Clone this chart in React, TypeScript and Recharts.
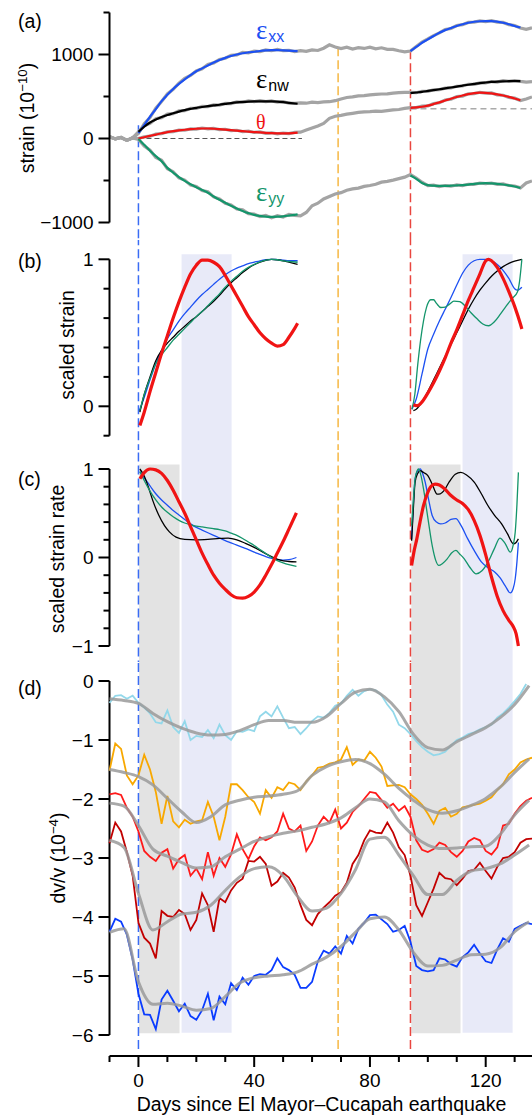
import React from 'react';
import { LineChart, Line, XAxis, YAxis, ReferenceLine, ReferenceArea } from 'recharts';

const SANS = '"Liberation Sans", Arial, Helvetica, sans-serif';
const SERIF = '"Liberation Serif", "Times New Roman", serif';

const W = 532;
const AXIS_W = 109.5;

// x: days since the El Mayor–Cucapah earthquake
const X_DOMAIN: [number, number] = [-10, 136];
const X_TICKS = [-10, 0, 10, 20, 30, 40, 50, 60, 70, 80, 90, 100, 110, 120, 130];
const X_LABELLED = [0, 40, 80, 120];

// event markers (top = strain value where the marker starts in panel a)
const EVENTS = [
  { day: 0, color: '#3a6cf4', top: 158 },
  { day: 69, color: '#f6b844', top: 1085 },
  { day: 94, color: '#e9463f', top: 1050 },
];
const GRAY_WINDOWS: [number, number][] = [[0.2, 14.2], [94.3, 111.3]];
const BLUE_WINDOWS: [number, number][] = [[14.9, 32.2], [112, 129.3]];

const DAYS_2 = Array.from({ length: 74 }, (_, i) => -10 + 2 * i);
const DAYS_5 = Array.from({ length: 30 }, (_, i) => -10 + 5 * i);

// ---- (a) raw strain (gray), every 2 days ----
const RAW_XX = [20, -5, 12, -22, 8, 60, 175, 250, 360, 440, 530, 585, 660, 715, 750, 805, 830, 880, 900, 940, 955, 990, 995, 1025, 1020,
  1040, 1035, 1055, 1045, 1060, 1045, 1050, 1035, 1045, 1038, 1055, 1048, 1075, 1115, 1090, 1070, 1088, 1065, 1082, 1072,
  1088, 1068, 1080, 1062, 1060, 1045, 1032, 1042, 1095, 1148, 1185, 1225, 1258, 1298, 1310, 1345, 1355, 1382, 1385, 1400,
  1392, 1402, 1385, 1382, 1355, 1345, 1315, 1300, 1318];
const RAW_NW = [20, -5, 12, -22, 8, 80, 150, 180, 235, 248, 290, 295, 330, 332, 360, 358, 382, 380, 400, 398, 418, 415, 435, 430, 448,
  438, 450, 440, 447, 432, 438, 420, 418, 425, 420, 432, 428, 435, 438, 450, 470, 488, 495, 508, 510,
  520, 525, 530, 532, 540, 545, 548, 550, 545, 560, 562, 580, 582, 600, 602, 622, 625, 645, 645, 662,
  662, 678, 672, 688, 680, 690, 680, 672, 678];
const RAW_TH = [20, -5, 12, -22, 8, 0, 20, 28, 52, 58, 80, 82, 100, 98, 115, 112, 125, 115, 120, 105, 110, 95, 98, 82, 88,
  72, 78, 62, 68, 55, 65, 58, 72, 75, 100, 125, 150, 180, 240, 265, 275, 290, 300, 310, 318,
  320, 325, 322, 332, 340, 345, 358, 368, 368, 385, 388, 415, 425, 458, 468, 498, 505, 532, 535, 550,
  540, 542, 520, 515, 490, 480, 452, 470, 495];
const RAW_YY = [20, -5, 12, -22, 8, -10, -90, -140, -225, -260, -360, -395, -470, -495, -555, -570, -620, -635, -695, -720, -770, -790, -840, -850, -895,
  -900, -930, -915, -945, -920, -935, -905, -915, -920, -880, -800, -770, -720, -690, -660, -645, -615, -600, -590, -570,
  -560, -545, -520, -510, -495, -478, -460, -430, -470, -520, -560, -555, -572, -560, -568, -552, -560, -545, -545, -530,
  -538, -530, -545, -540, -560, -565, -588, -530, -505];

// ---- (a) fitted strain [day, value] ----
const FIT_XX_1: [number, number][] = [[0, 64], [2, 160], [4, 260], [6, 350], [8, 445], [10, 520], [12, 590], [14, 650], [16, 705], [18, 755], [20, 800], [22, 835], [24, 870], [26, 905], [28, 935], [30, 960], [32, 982], [34, 1000], [36, 1015], [38, 1025], [40, 1033], [42, 1042], [44, 1048], [46, 1052], [48, 1052], [50, 1050], [52, 1047], [55, 1040]];
const FIT_XX_2: [number, number][] = [[94, 1040], [96, 1090], [98, 1140], [100, 1180], [102, 1220], [104, 1260], [106, 1290], [108, 1315], [110, 1340], [112, 1360], [114, 1378], [116, 1390], [118, 1396], [120, 1398], [122, 1398], [124, 1392], [126, 1378], [128, 1360], [130, 1340], [132, 1322]];
const FIT_NW_1: [number, number][] = [[0, 80], [2, 140], [4, 190], [6, 225], [8, 255], [10, 280], [12, 300], [14, 320], [16, 338], [18, 352], [20, 365], [22, 375], [24, 385], [26, 394], [28, 402], [30, 412], [32, 422], [34, 430], [36, 436], [38, 440], [40, 442], [42, 443], [44, 443], [46, 442], [48, 438], [50, 432], [52, 425], [55, 414]];
const FIT_NW_2: [number, number][] = [[94, 540], [96, 548], [98, 556], [100, 566], [102, 576], [104, 586], [106, 597], [108, 607], [110, 618], [112, 630], [114, 640], [116, 650], [118, 660], [120, 667], [122, 673], [124, 678], [126, 681], [128, 682], [130, 683], [132, 683]];
const FIT_TH_1: [number, number][] = [[0, 0], [2, 15], [4, 32], [6, 47], [8, 62], [10, 76], [12, 87], [14, 96], [16, 104], [18, 111], [20, 116], [22, 119], [24, 119], [26, 116], [28, 112], [30, 106], [32, 99], [34, 93], [36, 87], [38, 82], [40, 77], [42, 72], [44, 67], [46, 63], [48, 61], [50, 60], [52, 62], [55, 70]];
const FIT_TH_2: [number, number][] = [[94, 365], [96, 370], [98, 378], [100, 392], [102, 410], [104, 430], [106, 452], [108, 474], [110, 494], [112, 512], [114, 528], [116, 540], [118, 545], [120, 544], [122, 537], [124, 526], [126, 512], [128, 496], [130, 476], [132, 455]];
const FIT_YY_1: [number, number][] = [[0, -5], [2, -75], [4, -145], [6, -210], [8, -270], [10, -350], [12, -405], [14, -460], [16, -505], [18, -545], [20, -580], [22, -612], [24, -645], [26, -690], [28, -730], [30, -765], [32, -800], [34, -832], [36, -862], [38, -888], [40, -910], [42, -922], [44, -930], [46, -932], [48, -930], [50, -926], [52, -918], [55, -904]];
const FIT_YY_2: [number, number][] = [[94, -440], [96, -480], [98, -530], [100, -555], [102, -562], [104, -565], [106, -565], [108, -562], [110, -558], [112, -554], [114, -548], [116, -540], [118, -535], [120, -532], [122, -535], [124, -540], [126, -548], [128, -558], [130, -572], [132, -590]];

// ---- (b) scaled strain ----
const B_RED_1: [number, number][] = [[0.5, -0.13], [2, -0.04], [4, 0.1], [6, 0.23], [8, 0.36], [10, 0.48], [12, 0.6], [14, 0.71], [16, 0.81], [18, 0.9], [20, 0.96], [22, 0.995], [24, 0.995], [26, 0.98], [28, 0.95], [30, 0.89], [32, 0.82], [34, 0.75], [36, 0.68], [38, 0.61], [40, 0.555], [42, 0.5], [44, 0.46], [46, 0.43], [48, 0.41], [50, 0.42], [52, 0.47], [54, 0.53], [55, 0.565]];
const B_BLUE_1: [number, number][] = [[0.3, -0.03], [2, 0.06], [4, 0.18], [6, 0.29], [8, 0.38], [10, 0.46], [12, 0.52], [14, 0.58], [16, 0.63], [18, 0.675], [20, 0.72], [22, 0.76], [24, 0.795], [26, 0.83], [28, 0.865], [30, 0.895], [32, 0.92], [34, 0.94], [36, 0.955], [38, 0.97], [40, 0.98], [42, 0.99], [44, 0.997], [46, 1.0], [48, 0.998], [50, 0.995], [52, 0.99], [55, 0.99]];
const B_BLACK_1: [number, number][] = [[0.5, -0.04], [2, 0.08], [4, 0.2], [6, 0.31], [8, 0.38], [10, 0.43], [12, 0.47], [14, 0.51], [16, 0.545], [18, 0.58], [20, 0.61], [22, 0.645], [24, 0.68], [26, 0.715], [28, 0.755], [30, 0.8], [32, 0.84], [34, 0.875], [36, 0.91], [38, 0.94], [40, 0.963], [42, 0.98], [44, 0.993], [46, 1.0], [48, 0.997], [50, 0.99], [52, 0.98], [55, 0.966]];
const B_GREEN_1: [number, number][] = [[0.5, -0.03], [2, 0.08], [4, 0.19], [6, 0.29], [8, 0.35], [10, 0.4], [12, 0.45], [14, 0.49], [16, 0.53], [18, 0.57], [20, 0.61], [22, 0.645], [24, 0.685], [26, 0.725], [28, 0.765], [30, 0.81], [32, 0.85], [34, 0.885], [36, 0.918], [38, 0.945], [40, 0.965], [42, 0.982], [44, 0.994], [46, 1.0], [48, 0.997], [50, 0.99], [52, 0.985], [55, 0.98]];
const B_RED_2: [number, number][] = [[95, 0.01], [96, 0.005], [97, 0.01], [98, 0.03], [100, 0.09], [102, 0.16], [104, 0.24], [106, 0.33], [108, 0.43], [110, 0.52], [112, 0.62], [114, 0.72], [116, 0.81], [118, 0.9], [120, 0.99], [121, 1.0], [122, 0.99], [124, 0.945], [126, 0.87], [128, 0.78], [130, 0.68], [132, 0.56], [132.5, 0.526]];
const B_BLUE_2: [number, number][] = [[94.5, -0.02], [96, 0.05], [98, 0.22], [100, 0.39], [102, 0.49], [104, 0.58], [106, 0.66], [108, 0.74], [110, 0.825], [112, 0.905], [114, 0.96], [116, 0.99], [118, 1.0], [120, 1.0], [122, 0.99], [124, 0.965], [126, 0.925], [128, 0.87], [130, 0.8], [131, 0.79], [132.5, 0.81]];
const B_GREEN_2: [number, number][] = [[94.5, -0.02], [95.5, 0.08], [96.5, 0.28], [97.5, 0.45], [98.5, 0.58], [99.5, 0.67], [101, 0.725], [102, 0.725], [103, 0.7], [104.5, 0.672], [106, 0.675], [107.5, 0.695], [109, 0.715], [111, 0.712], [113, 0.68], [115, 0.635], [117, 0.595], [119, 0.56], [121, 0.548], [123, 0.575], [125, 0.625], [127, 0.68], [129, 0.73], [131, 0.78], [131.7, 0.85], [132.5, 1.0]];
const B_BLACK_2: [number, number][] = [[95, -0.03], [96, -0.02], [98, 0.03], [100, 0.1], [102, 0.18], [104, 0.26], [106, 0.34], [108, 0.42], [110, 0.5], [112, 0.58], [114, 0.66], [116, 0.73], [118, 0.79], [120, 0.84], [122, 0.885], [124, 0.92], [126, 0.95], [128, 0.972], [130, 0.988], [132.5, 1.0]];

// ---- (c) scaled strain rate ----
const C_RED_1: [number, number][] = [[0.5, 0.89], [2, 0.96], [4, 1.0], [6, 0.99], [8, 0.95], [10, 0.87], [12, 0.76], [14, 0.63], [16, 0.5], [18, 0.35], [20, 0.2], [22, 0.05], [24, -0.08], [26, -0.2], [28, -0.29], [30, -0.36], [32, -0.42], [34, -0.455], [36, -0.46], [38, -0.44], [40, -0.39], [42, -0.31], [44, -0.2], [46, -0.08], [48, 0.05], [50, 0.18], [52, 0.32], [54.6, 0.505]];
const C_BLUE_1: [number, number][] = [[0.5, 0.97], [2, 0.9], [4, 0.81], [6, 0.72], [8, 0.65], [10, 0.59], [12, 0.53], [14, 0.48], [16, 0.43], [18, 0.38], [20, 0.34], [22, 0.31], [24, 0.28], [26, 0.25], [28, 0.22], [30, 0.19], [32, 0.165], [34, 0.14], [36, 0.115], [38, 0.09], [40, 0.06], [42, 0.035], [44, 0.01], [46, -0.01], [48, -0.025], [50, -0.03], [52, -0.025], [54.6, 0.0]];
const C_BLACK_1: [number, number][] = [[0.5, 1.0], [2, 0.92], [3.6, 0.78], [5, 0.64], [7, 0.48], [9, 0.36], [10.7, 0.29], [13, 0.23], [16, 0.205], [20, 0.2], [24, 0.205], [28, 0.215], [31, 0.22], [34, 0.2], [37, 0.16], [40, 0.115], [43, 0.06], [46, 0.01], [49, -0.03], [52, -0.045], [54.6, -0.05]];
const C_GREEN_1: [number, number][] = [[0.5, 0.97], [2, 0.87], [4, 0.75], [6, 0.65], [8, 0.57], [10, 0.51], [12, 0.46], [14, 0.42], [16, 0.39], [18, 0.37], [20, 0.355], [22, 0.345], [24, 0.335], [26, 0.325], [28, 0.315], [30, 0.3], [32, 0.275], [34, 0.25], [36, 0.215], [38, 0.175], [40, 0.135], [42, 0.09], [44, 0.045], [46, 0.0], [48, -0.035], [50, -0.06], [52, -0.08], [54.6, -0.1]];
const C_RED_2: [number, number][] = [[94.4, -0.09], [95.3, 0.08], [96.2, 0.21], [97.3, 0.4], [98.5, 0.585], [99.8, 0.72], [101, 0.8], [102.5, 0.83], [104, 0.82], [106, 0.77], [108, 0.7], [110, 0.65], [112, 0.61], [114, 0.54], [116, 0.42], [118, 0.25], [120, 0.03], [122, -0.22], [124, -0.44], [126, -0.6], [128, -0.71], [129.5, -0.78], [130.5, -0.86], [131.3, -1.0]];
const C_BLUE_2: [number, number][] = [[94.4, 0.21], [95, 0.6], [95.6, 0.887], [96.5, 0.98], [97.4, 1.0], [98.3, 0.94], [99.1, 0.85], [100.3, 0.65], [101.5, 0.475], [103, 0.4], [104.4, 0.38], [106, 0.39], [108, 0.43], [109.7, 0.44], [111.5, 0.36], [113.8, 0.21], [116, 0.08], [118.5, -0.05], [121, -0.12], [123.2, -0.166], [125, -0.23], [126.7, -0.317], [128.5, -0.4], [129.5, -0.35], [130.2, -0.24], [130.8, -0.05], [131.3, 0.17]];
const C_GREEN_2: [number, number][] = [[94.4, 0.36], [95, 0.65], [95.6, 0.887], [96.3, 0.98], [96.8, 1.0], [97.6, 0.93], [98.5, 0.777], [100, 0.45], [101.5, 0.136], [102.7, -0.03], [103.8, -0.09], [105, -0.07], [106.7, -0.015], [108.2, 0.05], [109.7, 0.08], [111, 0.04], [112.6, -0.015], [114.5, -0.11], [116.7, -0.185], [118.7, -0.15], [120.8, -0.053], [123, 0.1], [124.9, 0.22], [126.7, 0.16], [128.5, 0.06], [129.5, 0.14], [130.2, 0.287], [130.8, 0.6], [131.3, 0.962]];
const C_BLACK_2: [number, number][] = [[94.4, 0.19], [95, 0.55], [95.6, 0.85], [96.5, 0.95], [97.4, 0.98], [98.5, 0.96], [100, 0.925], [101.5, 0.83], [103.2, 0.717], [104.3, 0.72], [105.6, 0.755], [107.5, 0.86], [109.5, 0.94], [111.4, 0.962], [113.5, 0.93], [116.1, 0.85], [118.5, 0.72], [120.8, 0.585], [123, 0.48], [125.5, 0.38], [127.5, 0.27], [129.6, 0.155], [130.5, 0.17], [131.3, 0.21]];

// ---- (d) dv/v (1e-4), every 2 days; fits every 5 days ----
const DV_CYAN = [-0.37, -0.25, -0.24, -0.3, -0.25, -0.37, -0.45, -0.55, -0.7, -0.72, -0.5, -0.78, -0.88, -0.68, -1.0,
  -0.93, -0.95, -0.83, -0.97, -0.74, -0.92, -1.0, -0.85, -0.86, -0.82, -0.85, -0.6, -0.52, -0.6, -0.43, -0.62, -0.8, -0.78, -0.9, -0.8,
  -0.68, -0.6, -0.62, -0.54, -0.42, -0.38, -0.25, -0.15, -0.25, -0.17, -0.14, -0.16, -0.24, -0.4, -0.52, -0.74, -0.8, -0.9, -1.02, -1.12,
  -1.2, -1.26, -1.24, -1.2, -1.09, -1.0, -0.96, -0.9, -0.87, -0.82, -0.78, -0.74, -0.62, -0.55, -0.45, -0.34, -0.22, -0.05];
const DV_ORANGE = [-1.52, -1.06, -1.15, -1.6, -1.75, -1.6, -1.25, -1.5, -1.88, -2.42, -1.95, -2.38, -2.48, -2.35, -2.42,
  -2.38, -2.36, -2.05, -2.3, -2.7, -2.3, -1.75, -1.75, -1.85, -1.97, -2.05, -2.25, -1.85, -1.98, -1.8, -1.85, -1.72, -1.75, -1.85, -1.7,
  -1.6, -1.47, -1.45, -1.4, -1.38, -1.33, -1.12, -1.42, -1.33, -1.35, -1.2, -1.3, -1.45, -1.78, -1.77, -1.76, -1.8, -1.92, -2.0, -2.1,
  -2.25, -2.42, -2.2, -2.15, -2.3, -2.25, -2.14, -2.12, -2.1, -2.08, -2.03, -1.97, -1.85, -1.75, -1.58, -1.5, -1.38, -1.33, -1.3];
const DV_RED = [-1.92, -1.9, -1.93, -2.15, -2.3, -2.55, -2.88, -2.98, -3.05, -2.91, -2.85, -3.18, -3.02, -2.95, -3.3,
  -3.18, -3.36, -2.9, -3.3, -3.0, -3.15, -2.94, -2.6, -2.85, -3.02, -2.8, -2.65, -2.7, -2.65, -2.55, -2.25, -2.5, -2.55, -2.45, -2.88,
  -2.72, -2.45, -2.3, -2.4, -2.18, -2.5, -2.4, -2.22, -2.12, -2.0, -1.88, -1.9, -2.02, -2.15, -2.08, -2.2, -2.12, -2.3, -2.7, -2.86,
  -2.9, -2.85, -2.74, -2.78, -2.9, -2.98, -2.88, -2.72, -2.66, -2.7, -2.88, -2.94, -2.82, -2.45, -2.42, -2.25, -2.12, -2.03, -1.98];
const DV_DARKRED = [-2.75, -2.4, -2.55, -2.9, -3.3, -4.1, -4.35, -4.45, -4.7, -3.9, -3.98, -4.0, -3.88, -3.95, -4.22,
  -4.05, -3.6, -3.8, -4.25, -3.68, -3.75, -3.55, -3.42, -3.35, -3.05, -3.06, -2.98, -3.1, -3.47, -3.4, -3.25, -3.33, -3.5, -3.8, -4.05,
  -4.14, -3.95, -3.84, -3.75, -3.64, -3.58, -3.42, -3.1, -2.95, -2.7, -2.53, -2.57, -2.58, -2.4, -2.57, -2.82, -2.95, -3.3, -3.8, -3.98,
  -3.75, -3.52, -3.25, -3.34, -3.36, -3.46, -3.35, -3.22, -3.2, -3.08, -3.22, -3.35, -3.15, -3.0, -2.98, -2.9, -2.74, -2.68, -2.67];
const DV_BLUE = [-4.25, -4.03, -4.08, -4.3, -4.72, -5.3, -5.65, -5.66, -5.9, -5.4, -5.25, -5.42, -5.6, -5.47, -5.68,
  -5.74, -5.58, -5.3, -5.75, -5.35, -5.48, -5.12, -5.24, -5.03, -5.15, -5.0, -4.97, -4.98, -4.9, -4.7, -4.85, -4.9, -4.98, -5.2, -5.2,
  -5.1, -4.75, -4.57, -4.62, -4.5, -4.62, -4.32, -4.45, -4.2, -4.1, -3.97, -3.96, -4.04, -4.12, -4.25, -4.22, -4.15, -4.42, -4.83, -4.9,
  -4.92, -4.9, -4.7, -4.72, -4.8, -4.84, -4.68, -4.6, -4.47, -4.62, -4.75, -4.78, -4.55, -4.36, -4.42, -4.2, -4.15, -4.1, -4.12];

const FIT_CYAN = [-0.3, -0.33, -0.38, -0.55, -0.69, -0.8, -0.88, -0.915, -0.905, -0.84, -0.74, -0.67, -0.67, -0.7, -0.7,
  -0.6, -0.38, -0.19, -0.14, -0.27, -0.52, -0.9, -1.13, -1.17, -1.03, -0.91, -0.79, -0.62, -0.4, -0.08];
const FIT_ORANGE = [-1.5, -1.55, -1.62, -1.76, -1.99, -2.22, -2.4, -2.3, -2.1, -2.02, -1.97, -1.95, -1.92, -1.86, -1.6,
  -1.45, -1.37, -1.33, -1.4, -1.58, -1.82, -2.02, -2.18, -2.24, -2.2, -2.11, -1.99, -1.8, -1.55, -1.32];
const FIT_RED = [-2.07, -2.12, -2.45, -2.85, -2.97, -3.08, -3.17, -3.15, -2.98, -2.85, -2.72, -2.64, -2.58, -2.54, -2.48,
  -2.42, -2.32, -2.15, -2.0, -2.05, -2.37, -2.62, -2.78, -2.84, -2.83, -2.81, -2.8, -2.6, -2.27, -2.02];
const FIT_DARKRED = [-2.7, -2.82, -3.6, -4.22, -4.08, -3.95, -3.92, -3.8, -3.55, -3.32, -3.18, -3.15, -3.3, -3.65, -3.9,
  -3.85, -3.6, -3.2, -2.68, -2.65, -2.95, -3.3, -3.62, -3.62, -3.38, -3.22, -3.18, -3.1, -2.95, -2.78];
const FIT_BLUE = [-4.26, -4.2, -5.1, -5.48, -5.46, -5.51, -5.58, -5.55, -5.35, -5.12, -5.03, -5.0, -4.98, -4.93, -4.8,
  -4.68, -4.5, -4.26, -4.03, -4.0, -4.22, -4.6, -4.83, -4.82, -4.73, -4.64, -4.63, -4.52, -4.25, -4.08];

const series = (days: number[], vals: number[]) => vals.map((v, i) => ({ day: days[i], v }));
const pairs = (p: [number, number][]) => p.map(([day, v]) => ({ day, v }));

const fmt = (v: number) => (v < 0 ? '\u2212' + Math.abs(v) : String(v));
const near = (list: number[], v: number) => list.some((m) => Math.abs(m - v) < 1e-6);

function yTick(labelled: number[]) {
  return (props: any) => {
    const { x, y, payload } = props;
    const major = near(labelled, payload.value);
    return (
      <g>
        <line x1={x} x2={x - (major ? 11 : 6)} y1={y} y2={y} stroke="#000" strokeWidth={2} />
        {major && (
          <text x={x - 16} y={y + 6.8} textAnchor="end" fontSize={19} fontFamily={SANS} fill="#000">
            {fmt(payload.value)}
          </text>
        )}
      </g>
    );
  };
}

function xTick(props: any) {
  const { x, y, payload } = props;
  const major = X_LABELLED.includes(payload.value);
  return (
    <g>
      <line x1={x} x2={x} y1={y} y2={y + (major ? 11 : 6)} stroke="#000" strokeWidth={2} />
      {major && (
        <text x={x} y={y + 31} textAnchor="middle" fontSize={19} fontFamily={SANS} fill="#000">
          {payload.value}
        </text>
      )}
    </g>
  );
}

const AXIS_LINE = { stroke: '#000', strokeWidth: 2 };

function line(key: string, data: { day: number; v: number }[], stroke: string, width: number, type: any = 'monotone', opacity = 1) {
  return (
    <Line
      key={key}
      data={data}
      dataKey="v"
      type={type}
      stroke={stroke}
      strokeWidth={width}
      strokeOpacity={opacity}
      dot={false}
      activeDot={false}
      isAnimationActive={false}
    />
  );
}

function eventLines(top: (e: (typeof EVENTS)[number]) => number, bottom: number) {
  return EVENTS.map((e) => (
    <ReferenceLine
      key={'ev' + e.day}
      segment={[{ x: e.day, y: top(e) }, { x: e.day, y: bottom }]}
      stroke={e.color}
      strokeWidth={1.5}
      strokeDasharray="9 4"
      ifOverflow="visible"
    />
  ));
}

function windows(list: [number, number][], fill: string, y1: number, y2: number, tag: string) {
  return list.map(([a, b]) => (
    <ReferenceArea key={tag + a} x1={a} x2={b} y1={y1} y2={y2} fill={fill} fillOpacity={1} stroke="none" ifOverflow="visible" />
  ));
}

const GRAY_FILL = '#e3e3e3';
const BLUE_FILL = '#e8eaf8';

const C = {
  blue: '#1c50f2',
  black: '#000000',
  red: '#f01414',
  green: '#14956b',
  gray: '#a4a4a4',
};

const text = { position: 'absolute' as const, fontFamily: SANS, fontSize: 19.5, lineHeight: '20px', color: '#000', whiteSpace: 'nowrap' as const };
const sup = { fontSize: '0.68em', verticalAlign: '0.55em' };

function Rot({ cx, cy, children }: { cx: number; cy: number; children: React.ReactNode }) {
  return (
    <div style={{ ...text, left: cx, top: cy, transform: 'translate(-50%, -50%) rotate(-90deg)' }}>{children}</div>
  );
}

function Greek({ left, top, color, main, sub, size = 27 }: { left: number; top: number; color: string; main: string; sub?: string; size?: number }) {
  return (
    <div style={{ position: 'absolute', left, top, color, fontFamily: SERIF, fontSize: size, lineHeight: size + 'px', whiteSpace: 'nowrap' }}>
      {main}
      {sub && <span style={{ fontFamily: SANS, fontSize: 16, position: 'relative', top: 3, marginLeft: 1 }}>{sub}</span>}
    </div>
  );
}

export default function App() {
  return (
    <div style={{ position: 'absolute', left: 0, top: 0, width: W, height: 1115, background: '#fff', overflow: 'hidden' }}>
      {/* (a) strain */}
      <div style={{ position: 'absolute', left: 0, top: 0 }}>
        <LineChart width={W} height={240} margin={{ top: 12.5, right: 0, bottom: 17.5, left: 0 }}>
          <XAxis type="number" dataKey="day" domain={X_DOMAIN} hide />
          <YAxis type="number" domain={[-1000, 1500]} ticks={[-1000, -500, 0, 500, 1000, 1500]} interval={0} width={AXIS_W}
            tickSize={0} tickMargin={0} axisLine={AXIS_LINE} tickLine={false} tick={yTick([-1000, 0, 1000])} />
          {eventLines((e) => e.top, -5000)}
          <ReferenceLine segment={[{ x: 0, y: 0 }, { x: 56.5, y: 0 }]} stroke="#555" strokeWidth={1} strokeDasharray="5 3" />
          <ReferenceLine segment={[{ x: 94, y: 355 }, { x: 136, y: 355 }]} stroke="#aaa" strokeWidth={1.5} strokeDasharray="6 4" />
          {line('gxx', series(DAYS_2, RAW_XX), C.gray, 3.2, 'linear')}
          {line('gnw', series(DAYS_2, RAW_NW), C.gray, 3.2, 'linear')}
          {line('gth', series(DAYS_2, RAW_TH), C.gray, 3.2, 'linear')}
          {line('gyy', series(DAYS_2, RAW_YY), C.gray, 3.2, 'linear')}
          {line('xx1', pairs(FIT_XX_1), C.blue, 2.2)}
          {line('xx2', pairs(FIT_XX_2), C.blue, 2.2)}
          {line('nw1', pairs(FIT_NW_1), C.black, 2.2)}
          {line('nw2', pairs(FIT_NW_2), C.black, 2.2)}
          {line('th1', pairs(FIT_TH_1), C.red, 2.2)}
          {line('th2', pairs(FIT_TH_2), C.red, 2.2)}
          {line('yy1', pairs(FIT_YY_1), C.green, 2.2)}
          {line('yy2', pairs(FIT_YY_2), C.green, 2.2)}
        </LineChart>
      </div>

      {/* (b) scaled strain */}
      <div style={{ position: 'absolute', left: 0, top: 240 }}>
        <LineChart width={W} height={210} margin={{ top: 19.3, right: 0, bottom: 14.3, left: 0 }}>
          <XAxis type="number" dataKey="day" domain={X_DOMAIN} hide />
          <YAxis type="number" domain={[-0.2, 1]} ticks={[-0.2, 0, 0.2, 0.4, 0.6, 0.8, 1]} interval={0} width={AXIS_W}
            tickSize={0} tickMargin={0} axisLine={AXIS_LINE} tickLine={false} tick={yTick([0, 1])} />
          {windows(BLUE_WINDOWS, BLUE_FILL, 1.035, -10, 'bw')}
          {eventLines(() => 10, -10)}
          {line('b1', pairs(B_BLUE_1), C.blue, 1.3)}
          {line('k1', pairs(B_BLACK_1), C.black, 1.3)}
          {line('g1', pairs(B_GREEN_1), C.green, 1.3)}
          {line('b2', pairs(B_BLUE_2), C.blue, 1.3)}
          {line('k2', pairs(B_BLACK_2), C.black, 1.3)}
          {line('g2', pairs(B_GREEN_2), C.green, 1.3)}
          {line('r1', pairs(B_RED_1), C.red, 3.2)}
          {line('r2', pairs(B_RED_2), C.red, 3.2)}
        </LineChart>
      </div>

      {/* (c) scaled strain rate */}
      <div style={{ position: 'absolute', left: 0, top: 450 }}>
        <LineChart width={W} height={212} margin={{ top: 19, right: 0, bottom: 16, left: 0 }}>
          <XAxis type="number" dataKey="day" domain={X_DOMAIN} hide />
          <YAxis type="number" domain={[-1, 1]} ticks={[-1, -0.8, -0.6, -0.4, -0.2, 0, 0.2, 0.4, 0.6, 0.8, 1]} interval={0} width={AXIS_W}
            tickSize={0} tickMargin={0} axisLine={AXIS_LINE} tickLine={false} tick={yTick([-1, 0, 1])} />
          {windows(GRAY_WINDOWS, GRAY_FILL, 1.05, -10, 'gw')}
          {windows(BLUE_WINDOWS, BLUE_FILL, 10, -10, 'bw')}
          {eventLines(() => 10, -10)}
          {line('b1', pairs(C_BLUE_1), C.blue, 1.3)}
          {line('k1', pairs(C_BLACK_1), C.black, 1.3)}
          {line('g1', pairs(C_GREEN_1), C.green, 1.3)}
          {line('b2', pairs(C_BLUE_2), C.blue, 1.3)}
          {line('k2', pairs(C_BLACK_2), C.black, 1.3)}
          {line('g2', pairs(C_GREEN_2), C.green, 1.3)}
          {line('r1', pairs(C_RED_1), C.red, 3.2)}
          {line('r2', pairs(C_RED_2), C.red, 3.2)}
        </LineChart>
      </div>

      {/* (d) dv/v */}
      <div style={{ position: 'absolute', left: 0, top: 662 }}>
        <LineChart width={W} height={453} margin={{ top: 19, right: 0, bottom: 0, left: 0 }}>
          <XAxis type="number" dataKey="day" domain={X_DOMAIN} ticks={X_TICKS} interval={0} height={59}
            tickSize={0} tickMargin={0} axisLine={AXIS_LINE} tickLine={false} tick={xTick} />
          <YAxis type="number" domain={[-6.356, 0]} ticks={[-6, -5, -4, -3, -2, -1, 0]} interval={0} width={AXIS_W}
            tickSize={0} tickMargin={0} axisLine={false} tickLine={false} tick={yTick([-6, -5, -4, -3, -2, -1, 0])} />
          {windows(GRAY_WINDOWS, GRAY_FILL, 10, -5.97, 'gw')}
          {windows(BLUE_WINDOWS, BLUE_FILL, 10, -5.96, 'bw')}
          {eventLines(() => 10, -6.25)}
          <ReferenceLine segment={[{ x: -10, y: -6 }, { x: -10, y: 0 }]} stroke="#000" strokeWidth={2} />
          {line('cy', series(DAYS_2, DV_CYAN), '#93d8ea', 1.8, 'linear')}
          {line('or', series(DAYS_2, DV_ORANGE), '#f8a800', 1.8, 'linear')}
          {line('rd', series(DAYS_2, DV_RED), '#ff1a1a', 1.8, 'linear')}
          {line('dr', series(DAYS_2, DV_DARKRED), '#c20000', 1.8, 'linear')}
          {line('bl', series(DAYS_2, DV_BLUE), '#0a3cff', 1.8, 'linear')}
          {line('fcy', series(DAYS_5, FIT_CYAN), '#9a9a9a', 3, 'monotone', 0.85)}
          {line('for', series(DAYS_5, FIT_ORANGE), '#9a9a9a', 3, 'monotone', 0.85)}
          {line('frd', series(DAYS_5, FIT_RED), '#9a9a9a', 3, 'monotone', 0.85)}
          {line('fdr', series(DAYS_5, FIT_DARKRED), '#9a9a9a', 3, 'monotone', 0.85)}
          {line('fbl', series(DAYS_5, FIT_BLUE), '#9a9a9a', 3, 'monotone', 0.85)}
        </LineChart>
      </div>

      {/* panel letters */}
      <div style={{ ...text, left: 18, top: 10.7 }}>(a)</div>
      <div style={{ ...text, left: 18, top: 250.8 }}>(b)</div>
      <div style={{ ...text, left: 18, top: 469 }}>(c)</div>
      <div style={{ ...text, left: 18, top: 677.5 }}>(d)</div>

      {/* axis titles */}
      <Rot cx={25} cy={118}>strain (10<span style={sup}>−10</span>)</Rot>
      <Rot cx={67} cy={345}>scaled strain</Rot>
      <Rot cx={57} cy={559}>scaled strain rate</Rot>
      <Rot cx={56} cy={858}>dv/v (10<span style={sup}>−4</span>)</Rot>
      <div style={{ ...text, left: 321.5, top: 1094, transform: 'translateX(-50%)' }}>Days since El Mayor–Cucapah earthquake</div>

      {/* component labels in (a) */}
      <Greek left={256} top={17.4} color={C.blue} main="ε" sub="xx" />
      <Greek left={256} top={65.7} color={C.black} main="ε" sub="nw" />
      <Greek left={256} top={111.5} color={C.red} main="θ" size={20} />
      <Greek left={256} top={179} color={C.green} main="ε" sub="yy" />
    </div>
  );
}
